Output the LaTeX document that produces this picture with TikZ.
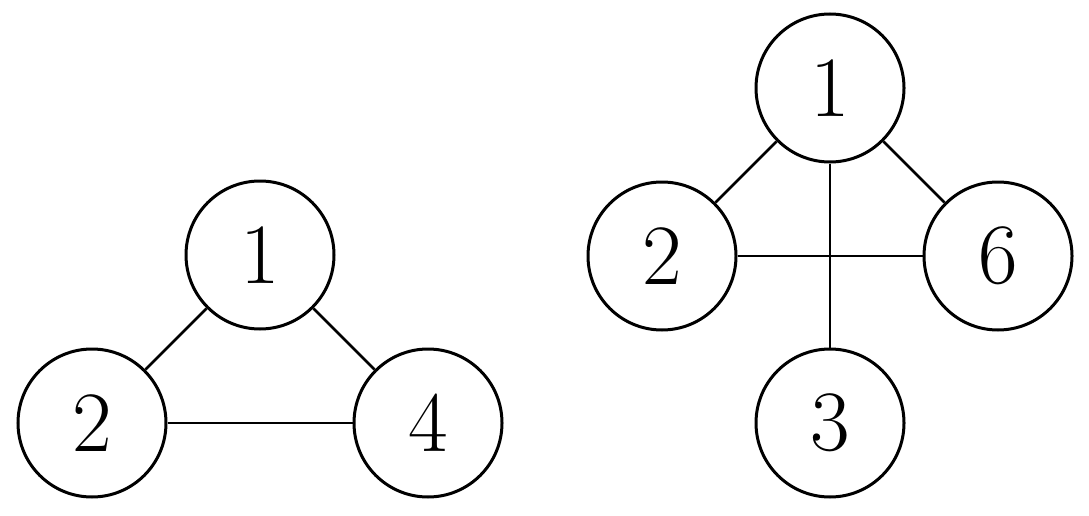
\documentclass[tikz,border=0pt]{standalone}
\begin{document}
\begin{tikzpicture}[x=1pt,y=-1pt,
  vert/.style={circle,draw,line width=3pt,minimum size=148pt,inner sep=0pt,font=\fontsize{86}{86}\selectfont},
  edge/.style={line width=2.5pt}]
\useasboundingbox (0,0) rectangle (1089,516);
\node[vert] (a1) at (260,255) {1};
\node[vert] (a2) at (92,423) {2};
\node[vert] (a4) at (428,423) {4};
\node[vert] (b1) at (830,88) {1};
\node[vert] (b2) at (662,256) {2};
\node[vert] (b6) at (998,256) {6};
\node[vert] (b3) at (830,423) {3};
\draw[edge] (a1) -- (a2);
\draw[edge] (a1) -- (a4);
\draw[edge] (a2) -- (a4);
\draw[edge] (b1) -- (b2);
\draw[edge] (b1) -- (b6);
\draw[edge] (b2) -- (b6);
\draw[edge] (b1) -- (b3);
\end{tikzpicture}
\end{document}
